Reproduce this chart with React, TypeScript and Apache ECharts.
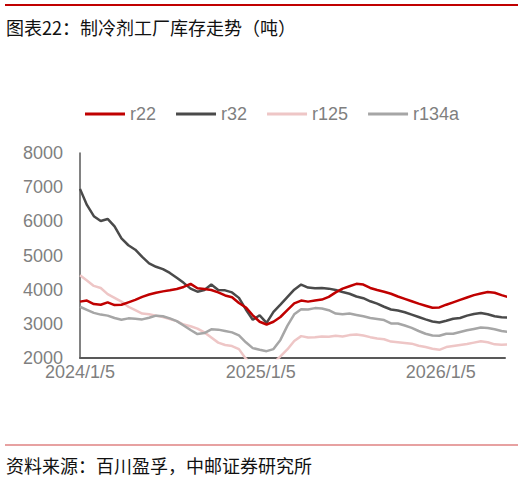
import React, { useEffect, useRef } from "react";
import * as echarts from "echarts";

// Bi-weekly observations starting 2024/1/5 (tons)
const START = { y: 2024, m: 0, d: 5 };
const STEP_DAYS = 14;
const AXIS_END = { y: 2026, m: 4, d: 15 };

const seriesNames = ["r22", "r32", "r125", "r134a"];

const r22 = [
  3650, 3680, 3580, 3560, 3630, 3550, 3560, 3630, 3700, 3790,
  3860, 3910, 3950, 3980, 4020, 4080, 4170, 4040, 4020, 3990,
  3920, 3830, 3780, 3610, 3480, 3250, 3060, 2980, 3060, 3200,
  3400, 3600, 3680, 3650, 3680, 3710, 3790, 3920, 4030, 4100,
  4170, 4150, 4050, 3990, 3940, 3880, 3800, 3730, 3660, 3590,
  3530, 3470, 3480, 3560, 3630, 3700, 3770, 3840, 3890, 3930,
  3910, 3840, 3780,
];

const r32 = [
  6950, 6480, 6150, 6010, 6070, 5850, 5500, 5300, 5170, 4960,
  4770, 4670, 4600, 4490, 4350, 4200, 4030, 3940, 3990, 4150,
  3990, 3980, 3920, 3760, 3420, 3120, 3250, 3030, 3350, 3560,
  3780, 4000, 4150, 4060, 4040, 4050, 4030, 3990, 3930, 3880,
  3800, 3750, 3660, 3590, 3500, 3420, 3390, 3340, 3270, 3200,
  3130, 3070, 3040, 3090, 3150, 3170, 3240, 3290, 3320, 3280,
  3220, 3190, 3180,
];

const r125 = [
  4420, 4270, 4110, 4050, 3870, 3760, 3650, 3500, 3400, 3300,
  3280, 3240, 3200, 3140, 3080, 2980, 2930, 2860, 2750, 2600,
  2450, 2380, 2350, 2260, 1980, 1800, 1720, 1720, 1850, 2050,
  2250, 2500, 2640, 2600, 2610, 2630, 2620, 2650, 2630, 2670,
  2690, 2660, 2610, 2570, 2550, 2480, 2460, 2440, 2420, 2360,
  2320, 2270, 2240, 2320, 2350, 2380, 2410, 2450, 2490, 2460,
  2400, 2390, 2400,
];

const r134a = [
  3500, 3410, 3320, 3270, 3240, 3170, 3120, 3160, 3150, 3130,
  3180, 3240, 3220, 3160, 3080, 2950, 2820, 2700, 2730, 2840,
  2830, 2790, 2750, 2660, 2460, 2290, 2240, 2200, 2260, 2530,
  2940, 3280, 3430, 3420, 3460, 3450, 3400, 3300, 3280, 3300,
  3260, 3220, 3170, 3140, 3110, 3010, 3010, 2950, 2880, 2790,
  2710, 2660, 2650, 2710, 2710, 2760, 2810, 2850, 2890, 2880,
  2840, 2790, 2760,
];

const xTickLabels = ["2024/1/5", "2025/1/5", "2026/1/5"];
const yMin = 2000;
const yMax = 8000;
const yStep = 1000;

const titleText = "图表22：制冷剂工厂库存走势（吨）";
const sourceText = "资料来源：百川盈孚，中邮证券研究所";

const colors = ["#c00000", "#4a4a4a", "#eec6c6", "#a6a6a6"];

const DAY = 86400000;
const toDay = (y: number, m: number, d: number) =>
  Math.round(Date.UTC(y, m, d) / DAY);
const parseLabel = (s: string) => {
  const [y, m, d] = s.split("/").map(Number);
  return toDay(y, m - 1, d);
};
const fmt = (dayNum: number) => {
  const d = new Date(dayNum * DAY);
  return `${d.getUTCFullYear()}/${d.getUTCMonth() + 1}/${d.getUTCDate()}`;
};

export default function App() {
  const ref = useRef<HTMLDivElement>(null);

  useEffect(() => {
    if (!ref.current) return;
    const chart = echarts.init(ref.current, null, { renderer: "svg" });
    const d0 = toDay(START.y, START.m, START.d);
    const days = r22.map((_, i) => d0 + STEP_DAYS * i);
    const allSeries = [r22, r32, r125, r134a];
    const latin = "'Liberation Sans', Arial, sans-serif";
    const cjk = "'Noto Sans CJK SC', sans-serif";

    chart.setOption({
      animation: false,
      backgroundColor: "#ffffff",
      grid: { left: 80, right: 19, top: 153, bottom: 122 },
      legend: {
        data: seriesNames,
        left: 85,
        top: 105,
        padding: 0,
        icon: "rect",
        itemWidth: 40,
        itemHeight: 3,
        itemGap: 20,
        textStyle: { fontSize: 18, color: "#7f7f7f", fontFamily: latin },
      },
      xAxis: {
        type: "value",
        min: d0,
        max: toDay(AXIS_END.y, AXIS_END.m, AXIS_END.d),
        axisLine: { show: true, lineStyle: { color: "#595959", width: 2 } },
        axisTick: { show: false },
        splitLine: { show: false },
        axisLabel: {
          customValues: xTickLabels.map(parseLabel),
          formatter: (v: number) => fmt(v),
          fontSize: 18,
          lineHeight: 12,
          color: "#7f7f7f",
          fontFamily: latin,
          margin: 8,
          hideOverlap: false,
        },
      },
      yAxis: {
        type: "value",
        min: yMin,
        max: yMax,
        interval: yStep,
        axisLine: { show: true, lineStyle: { color: "#595959", width: 1.5 } },
        axisTick: { show: false },
        splitLine: { show: false },
        axisLabel: {
          formatter: (v: number) => String(v),
          fontSize: 18,
          lineHeight: 12,
          color: "#7f7f7f",
          fontFamily: latin,
          margin: 17,
        },
      },
      series: seriesNames.map((name, k) => ({
        name,
        type: "line",
        symbol: "none",
        clip: true,
        z: k === 0 ? 5 : 2,
        color: colors[k],
        lineStyle: { color: colors[k], width: 2.5 },
        data: allSeries[k].map((v, i) => [days[i], v]),
      })),
      graphic: [
        {
          type: "line",
          shape: { x1: 5, y1: 5, x2: 518, y2: 5 },
          style: { stroke: "#c00000", lineWidth: 2 },
        },
        {
          type: "text",
          x: 6,
          y: 27,
          style: {
            text: titleText,
            fontSize: 18,
            fontFamily: cjk,
            fill: "#111111",
            verticalAlign: "middle",
          },
        },
        {
          type: "line",
          shape: { x1: 5, y1: 445, x2: 518, y2: 445 },
          style: { stroke: "#d04545", lineWidth: 1.2 },
        },
        {
          type: "text",
          x: 6,
          y: 465,
          style: {
            text: sourceText,
            fontSize: 18,
            fontFamily: cjk,
            fill: "#111111",
            verticalAlign: "middle",
          },
        },
      ],
    });
    return () => chart.dispose();
  }, []);

  return (
    <div
      ref={ref}
      style={{ position: "fixed", left: 0, top: 0, width: 524, height: 480 }}
    />
  );
}
